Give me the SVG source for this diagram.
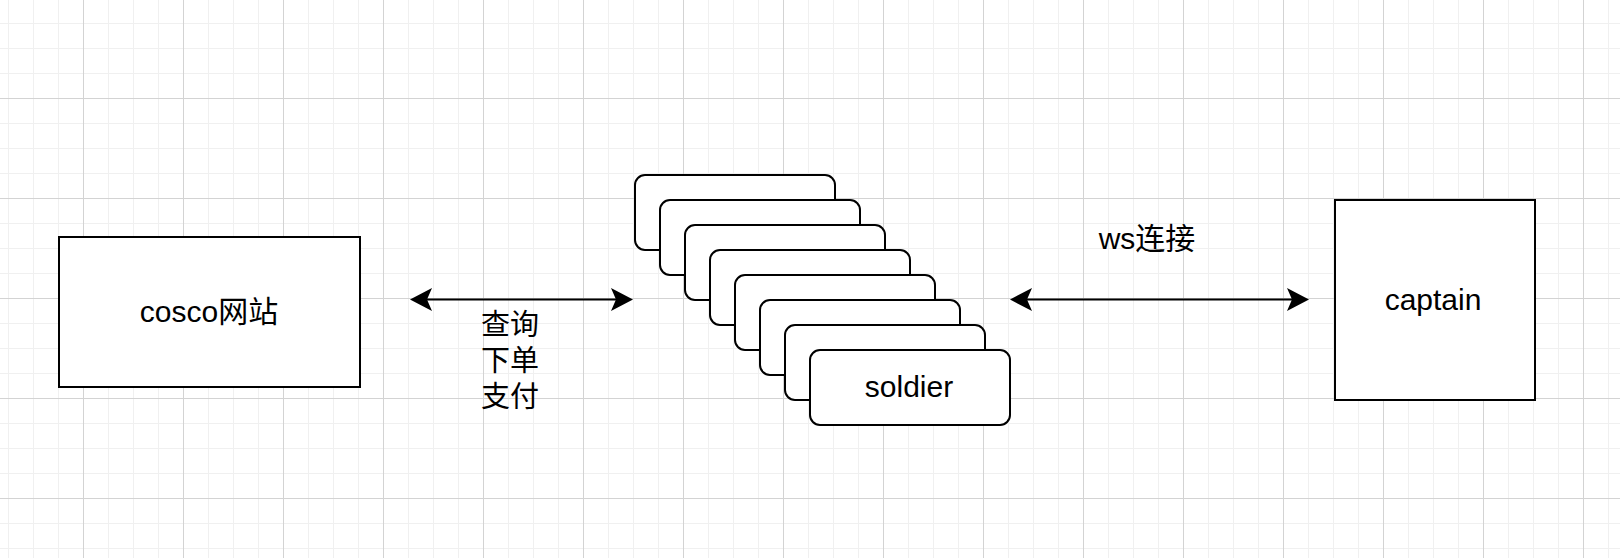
<svg xmlns="http://www.w3.org/2000/svg" width="1620" height="558" viewBox="0 0 1620 558">
  <style>
    .box { fill: #ffffff; stroke: #000000; stroke-width: 2; }
    .lbl { font-family: "Liberation Sans", "Noto Sans CJK SC", Arial, sans-serif; font-size: 30px; fill: #000000; text-anchor: middle; }
    .zh { font-size: 29px; }
    .conn { stroke: #000000; stroke-width: 2; fill: none; }
  </style>
  <defs>
    <pattern id="grid" patternUnits="userSpaceOnUse" x="8" y="23" width="100" height="100">
      <path d="M0.5 0 V100 M25.5 0 V100 M50.5 0 V100 M0 0.5 H100 M0 25.5 H100 M0 50.5 H100" stroke="#f0f0f0" stroke-width="1" fill="none"/>
      <path d="M75.5 0 V100 M0 75.5 H100" stroke="#d3d3d3" stroke-width="1" fill="none"/>
    </pattern>
    <marker id="arr" viewBox="0 0 22 24" refX="5" refY="12" markerWidth="22" markerHeight="24" markerUnits="userSpaceOnUse" orient="auto-start-reverse">
      <path d="M0 0.5 L22 12 L0 23.5 L5 12 Z" fill="#000000"/>
    </marker>
  </defs>
  <rect x="0" y="0" width="1620" height="558" fill="#ffffff"/>
  <rect x="0" y="0" width="1620" height="558" fill="url(#grid)"/>

  <g id="connectors">
    <line class="conn" x1="427" y1="299.5" x2="616" y2="299.5" marker-start="url(#arr)" marker-end="url(#arr)"/>
    <line class="conn" x1="1027" y1="299.5" x2="1292" y2="299.5" marker-start="url(#arr)" marker-end="url(#arr)"/>
    <g id="label-query">
      <text class="lbl zh" x="510" y="335">查询</text>
      <text class="lbl zh" x="510" y="371">下单</text>
      <text class="lbl zh" x="510" y="407">支付</text>
    </g>
    <text id="label-ws" class="lbl" x="1147" y="249">ws连接</text>
  </g>

  <g id="cosco">
    <rect class="box" x="59" y="237" width="301" height="150"/>
    <text class="lbl" x="209" y="322">cosco网站</text>
  </g>

  <g id="soldiers">
    <rect class="box" x="635" y="175" width="200" height="75" rx="10"/>
    <rect class="box" x="660" y="200" width="200" height="75" rx="10"/>
    <rect class="box" x="685" y="225" width="200" height="75" rx="10"/>
    <rect class="box" x="710" y="250" width="200" height="75" rx="10"/>
    <rect class="box" x="735" y="275" width="200" height="75" rx="10"/>
    <rect class="box" x="760" y="300" width="200" height="75" rx="10"/>
    <rect class="box" x="785" y="325" width="200" height="75" rx="10"/>
    <rect class="box" x="810" y="350" width="200" height="75" rx="10"/>
    <text class="lbl" x="909" y="397">soldier</text>
  </g>

  <g id="captain">
    <rect class="box" x="1335" y="200" width="200" height="200"/>
    <text class="lbl" x="1433" y="310">captain</text>
  </g>
</svg>
